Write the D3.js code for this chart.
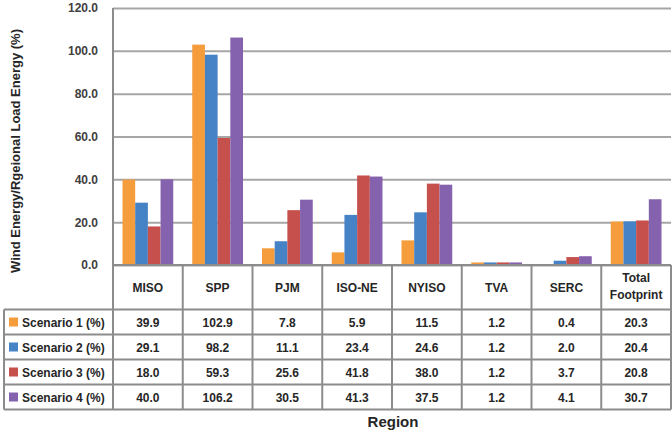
<!DOCTYPE html>
<html>
<head>
<meta charset="utf-8">
<script src="https://cdn.jsdelivr.net/npm/d3@7"></script>
<style>
  body { margin: 0; background: #fff; }
  svg { font-family: "Liberation Sans", Arial, sans-serif; font-weight: bold; }
</style>
</head>
<body>
<div id="chart"></div>
<script>
var regions = ['MISO', 'SPP', 'PJM', 'ISO-NE', 'NYISO', 'TVA', 'SERC', 'Total Footprint'];
var scenarios = ['Scenario 1 (%)', 'Scenario 2 (%)', 'Scenario 3 (%)', 'Scenario 4 (%)'];
var scenario1 = [39.9, 102.9, 7.8, 5.9, 11.5, 1.2, 0.4, 20.3];
var scenario2 = [29.1, 98.2, 11.1, 23.4, 24.6, 1.2, 2.0, 20.4];
var scenario3 = [18.0, 59.3, 25.6, 41.8, 38.0, 1.2, 3.7, 20.8];
var scenario4 = [40.0, 106.2, 30.5, 41.3, 37.5, 1.2, 4.1, 30.7];
var yTicks = [0, 20, 40, 60, 80, 100, 120];

var series = [scenario1, scenario2, scenario3, scenario4];
var colors = ['#F59D3D', '#4682C6', '#C5504C', '#8562AE'];

var chart_width = 672, chart_height = 433;
var plot_left = 113, plot_right = 671, plot_top = 8, zero_y = 265;
var row_h = 25, table_top = 309.5;

var svg = d3.select('#chart')
  .append('svg')
  .attr('width', chart_width)
  .attr('height', chart_height);

// scales
var x = d3.scaleBand().domain(regions).range([plot_left, plot_right]);
var xs = d3.scaleBand().domain(d3.range(4)).range([9.5, x.bandwidth() - 9.5]);
var y = d3.scaleLinear().domain([0, 120]).range([zero_y, plot_top]);

// gridlines + tick labels
var yAxis = d3.axisLeft(y)
  .tickValues(yTicks)
  .tickFormat(d3.format('.1f'))
  .tickSize(-(plot_right - plot_left))
  .tickPadding(15);
var g = svg.append('g')
  .attr('transform', 'translate(' + plot_left + ',0)')
  .call(yAxis);
g.select('.domain').remove();
g.selectAll('.tick line').attr('stroke', '#a6a6a6').attr('stroke-width', 2);
g.selectAll('.tick text')
  .attr('fill', '#404040')
  .style('font-size', '12px')
  .style('font-family', '"Liberation Sans", Arial, sans-serif')
  .style('font-weight', 'bold');

// bars
var groups = svg.append('g').selectAll('g')
  .data(regions)
  .enter()
  .append('g')
  .attr('transform', function(d){ return 'translate(' + x(d) + ',0)'; });

groups.selectAll('rect')
  .data(function(d, i){ return series.map(function(s, k){ return {k: k, v: s[i]}; }); })
  .enter()
  .append('rect')
  .attr('x', function(d){ return xs(d.k); })
  .attr('width', xs.bandwidth())
  .attr('y', function(d){ return y(d.v); })
  .attr('height', function(d){ return zero_y - y(d.v); })
  .attr('fill', function(d){ return colors[d.k]; });

// table lines
var lineColor = '#8c8c8c';
var table_bottom = table_top + row_h * 4;
var lines = svg.append('g').attr('stroke', lineColor).attr('stroke-width', 2);
// vertical lines between columns
regions.concat(['end']).forEach(function(r, i){
  var xx = i < regions.length ? x(r) : plot_right;
  lines.append('line').attr('x1', xx).attr('x2', xx)
    .attr('y1', i === 0 ? plot_top : zero_y).attr('y2', table_bottom);
});
// left border of legend column
lines.append('line').attr('x1', 4).attr('x2', 4).attr('y1', table_top).attr('y2', table_bottom);
// horizontal lines
lines.append('line').attr('x1', plot_left).attr('x2', plot_right).attr('y1', zero_y).attr('y2', zero_y);
d3.range(5).forEach(function(i){
  lines.append('line').attr('x1', 4).attr('x2', plot_right)
    .attr('y1', table_top + i * row_h).attr('y2', table_top + i * row_h);
});

// header labels
svg.append('g').selectAll('text')
  .data(regions)
  .enter()
  .append('text')
  .attr('y', function(d){ return d === 'Total Footprint' ? 282 : 292; })
  .attr('text-anchor', 'middle')
  .attr('fill', '#262626')
  .style('font-size', '12px')
  .each(function(d){
    var t = d3.select(this);
    d.split(' ').forEach(function(w, i){
      t.append('tspan').attr('x', x(d) + x.bandwidth() / 2).attr('dy', i ? 17 : 0).text(w);
    });
  });

// legend rows
var rows = svg.append('g').selectAll('g')
  .data(scenarios)
  .enter()
  .append('g')
  .attr('transform', function(d, i){ return 'translate(0,' + (table_top + i * row_h) + ')'; });

rows.append('rect')
  .attr('x', 9).attr('y', 8).attr('width', 9).attr('height', 9)
  .attr('fill', function(d, i){ return colors[i]; });

rows.append('text')
  .attr('x', 22).attr('y', 17)
  .attr('fill', '#262626')
  .style('font-size', '12px')
  .text(function(d){ return d; });

rows.selectAll('text.val')
  .data(function(d, i){ return series[i].map(function(v, j){ return {r: regions[j], v: v}; }); })
  .enter()
  .append('text')
  .attr('class', 'val')
  .attr('x', function(d){ return x(d.r) + x.bandwidth() / 2; })
  .attr('y', 17)
  .attr('text-anchor', 'middle')
  .attr('fill', '#262626')
  .style('font-size', '12px')
  .text(function(d){ return d.v.toFixed(1); });

// axis titles
svg.append('text')
  .attr('transform', 'translate(20,151) rotate(-90)')
  .attr('text-anchor', 'middle')
  .attr('fill', '#262626')
  .style('font-size', '13px')
  .text('Wind Energy/Rgeional Load Energy (%)');

svg.append('text')
  .attr('x', 393).attr('y', 427)
  .attr('text-anchor', 'middle')
  .attr('fill', '#262626')
  .style('font-size', '15px')
  .text('Region');
</script>
</body>
</html>
